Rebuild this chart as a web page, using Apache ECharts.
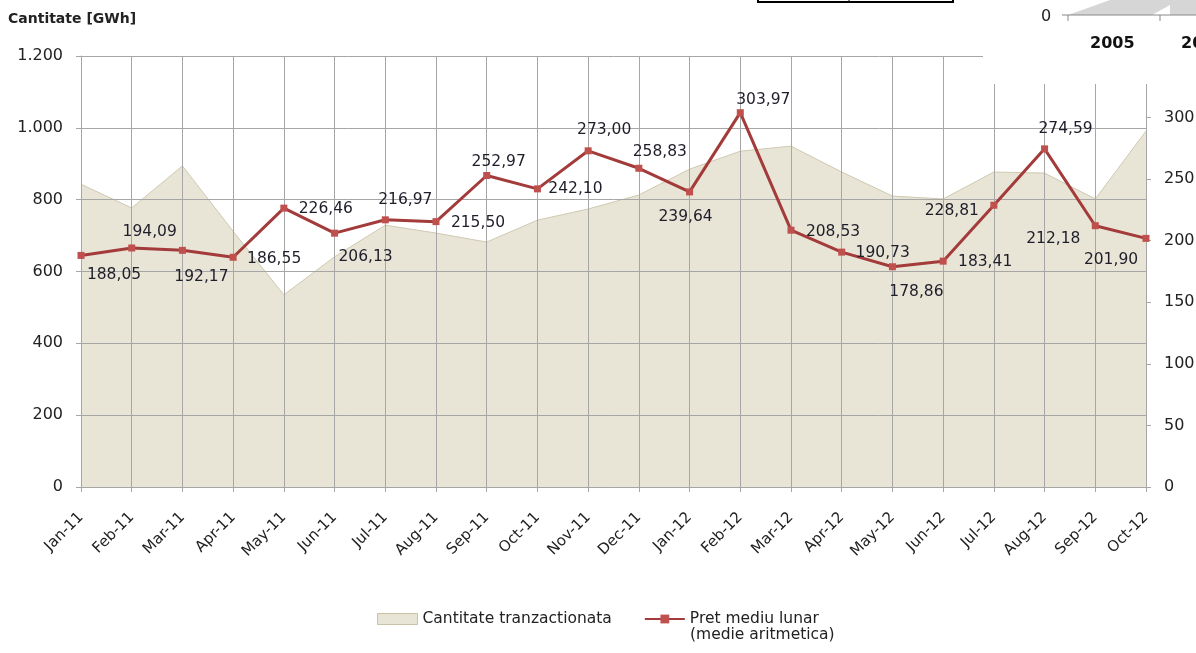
<!DOCTYPE html>
<html>
<head>
<meta charset="utf-8">
<title>Cantitate si pret</title>
<script src="https://cdn.jsdelivr.net/npm/echarts@6/dist/echarts.min.js"></script>
<style>
  html, body { margin: 0; padding: 0; background: #fff; }
  #mainChart { width: 1196px; height: 653px; }
</style>
</head>
<body>
<div id="mainChart"></div>
<script>
'use strict'
// luni
var months = ['Jan-11','Feb-11','Mar-11','Apr-11','May-11','Jun-11','Jul-11','Aug-11','Sep-11','Oct-11','Nov-11',
              'Dec-11','Jan-12','Feb-12','Mar-12','Apr-12','May-12','Jun-12','Jul-12','Aug-12','Sep-12','Oct-12'];
// cantitate tranzactionata [GWh]
var cantitate = [843, 777, 894, 712, 535, 641, 729, 707, 682, 743, 774,
                 813, 885, 935, 949, 877, 810, 802, 877, 874, 802, 991];
// pret mediu lunar
var pret = [188.05, 194.09, 192.17, 186.55, 226.46, 206.13, 216.97, 215.50, 252.97, 242.10, 273.00,
            258.83, 239.64, 303.97, 208.53, 190.73, 178.86, 183.41, 228.81, 274.59, 212.18, 201.90];
// pozitia etichetelor fata de punct [dx, dy]
var labelOffsets = [[33,20],[18,-16],[19,27],[41,2],[42,1],[31,24],[20,-20],[42,1],[12,-14],[38,0],[16,-21],
                    [21,-16],[-4,25],[23,-13],[42,2],[41,1],[24,25],[42,1],[-42,6],[21,-20],[-42,13],[-35,22]];

var FONT = 'DejaVu Sans';
var gridColor = '#A6A6A6';

var pretData = pret.map(function (v, i) {
    return {
        value: v,
        label: { offset: labelOffsets[i] }
    };
});

var myChart = echarts.init(document.getElementById('mainChart'));
myChart.setOption({
    animation: false,
    textStyle: { fontFamily: FONT },
    grid: { left: 81, right: 50, top: 56, bottom: 166, outerBoundsMode: 'none' },
    legend: {
        left: 372,
        top: 606,
        itemWidth: 40,
        itemHeight: 11,
        itemGap: 32,
        textStyle: { fontFamily: FONT, fontSize: 15.5, color: '#222' },
        data: [
            { name: 'Cantitate tranzactionata', icon: 'rect',
              itemStyle: { color: '#E8E4D6', borderColor: '#C9C3A6', borderWidth: 1 } },
            { name: 'Pret mediu lunar' }
        ]
    },
    xAxis: {
        type: 'category',
        data: months,
        boundaryGap: false,
        z: 2,
        axisLine: { lineStyle: { color: gridColor } },
        axisTick: { show: true, length: 5, interval: 0, lineStyle: { color: gridColor } },
        splitLine: { show: true, interval: 0, lineStyle: { color: gridColor } },
        axisLabel: { rotate: 45, interval: 0, margin: 28, fontSize: 15, color: '#222', fontFamily: FONT }
    },
    yAxis: [
        {
            type: 'value',
            name: 'Cantitate [GWh]',
            nameLocation: 'end',
            nameGap: 30,
            nameTextStyle: { fontWeight: 'bold', fontSize: 14, color: '#222', align: 'left', padding: [0, 0, 0, -73] },
            min: 0, max: 1200, interval: 200,
            z: 2,
            axisLine: { show: true, lineStyle: { color: gridColor } },
            axisTick: { show: true, length: 5, lineStyle: { color: gridColor } },
            splitLine: { show: true, lineStyle: { color: gridColor } },
            axisLabel: {
                fontSize: 16, color: '#222', margin: 18,
                formatter: function (v) { return String(v).replace(/\B(?=(\d{3})+(?!\d))/g, '.'); }
            }
        },
        {
            type: 'value',
            min: 0, max: 350, interval: 50,
            position: 'right',
            z: 2,
            axisLine: { show: true, lineStyle: { color: gridColor } },
            axisTick: { show: true, length: 5, lineStyle: { color: gridColor } },
            splitLine: { show: false },
            axisLabel: {
                fontSize: 16, color: '#222', margin: 18,
                formatter: function (v) { return v > 300 ? '' : String(v); }
            }
        }
    ],
    series: [
        {
            name: 'Cantitate tranzactionata',
            type: 'line',
            yAxisIndex: 0,
            data: cantitate,
            symbol: 'none',
            lineStyle: { color: '#CFC9B0', width: 1 },
            itemStyle: { color: '#E8E4D6' },
            areaStyle: { color: '#E8E4D6', opacity: 1 },
            z: 1
        },
        {
            name: 'Pret mediu lunar',
            type: 'line',
            yAxisIndex: 1,
            data: pretData,
            symbol: 'rect',
            symbolSize: 7,
            lineStyle: { color: '#A33B3B', width: 3 },
            itemStyle: { color: '#C0504D' },
            label: {
                show: true,
                position: 'inside',
                fontSize: 15.5,
                color: '#1E1E2A',
                fontFamily: FONT,
                formatter: function (p) { return p.value.toFixed(2).replace('.', ','); }
            },
            z: 3
        }
    ],
    graphic: [
        { type: 'text', left: 690, top: 627,
          style: { text: '(medie aritmetica)', font: '15.5px "DejaVu Sans"', fill: '#222' } },
        // bucata alba care acopera coltul din dreapta sus
        { type: 'rect', shape: { x: 983, y: 0, width: 213, height: 84 },
          style: { fill: '#fff' }, z: 100 },
        { type: 'polygon', shape: { points: [[1068, 15], [1110, 0], [1196, 0], [1196, 15]] },
          style: { fill: '#D6D6D6' }, z: 101 },
        { type: 'polygon', shape: { points: [[1152, 15], [1170, 5], [1170, 15]] },
          style: { fill: '#fff' }, z: 101 },
        { type: 'line', shape: { x1: 1062, y1: 15, x2: 1196, y2: 15 },
          style: { stroke: '#888', lineWidth: 1 }, z: 102 },
        { type: 'line', shape: { x1: 1068, y1: 15, x2: 1068, y2: 21 },
          style: { stroke: '#888', lineWidth: 1 }, z: 102 },
        { type: 'line', shape: { x1: 1160, y1: 15, x2: 1160, y2: 21 },
          style: { stroke: '#888', lineWidth: 1 }, z: 102 },
        { type: 'text', x: 1041, y: 9, z: 102,
          style: { text: '0', font: '16px "DejaVu Sans"', fill: '#222' } },
        { type: 'text', x: 1090, y: 36, z: 102,
          style: { text: '2005', font: 'bold 16px "DejaVu Sans"', fill: '#111' } },
        { type: 'text', x: 1181, y: 36, z: 102,
          style: { text: '20', font: 'bold 16px "DejaVu Sans"', fill: '#111' } },
        { type: 'rect', shape: { x: 758, y: -10, width: 195, height: 12 },
          style: { fill: 'none', stroke: '#000', lineWidth: 2 }, z: 102 },
        { type: 'line', shape: { x1: 849, y1: 0, x2: 849, y2: 2 },
          style: { stroke: '#000', lineWidth: 1 }, z: 102 }
    ]
});
</script>
</body>
</html>
